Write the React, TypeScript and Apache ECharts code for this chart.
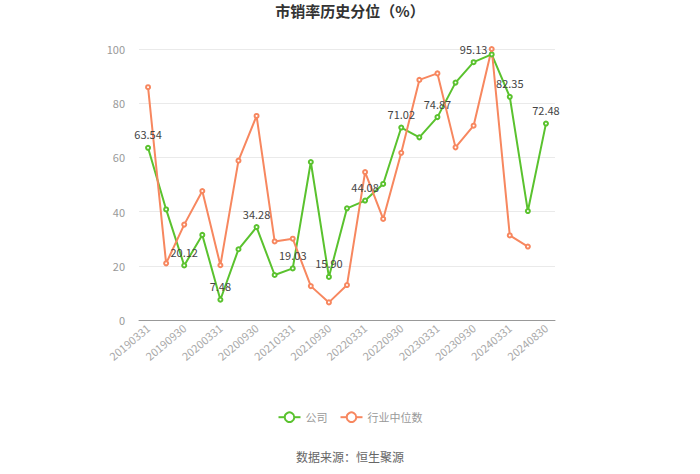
import React, { useEffect, useRef } from "react";
import * as echarts from "echarts";

const categories = [
  "20190331", "20190630", "20190930", "20191231",
  "20200331", "20200630", "20200930", "20201231",
  "20210331", "20210630", "20210930", "20211231",
  "20220331", "20220630", "20220930", "20221231",
  "20230331", "20230630", "20230930", "20231231",
  "20240331", "20240630", "20240830",
];

const companyValues = [
  63.54, 40.8, 20.12, 31.4, 7.48, 26.1, 34.28, 16.6, 19.03, 58.3, 15.9, 41.2,
  44.08, 50.2, 71.02, 67.4, 74.87, 87.6, 95.13, 98.0, 82.35, 40.2, 72.48,
];

const industryValues = [
  85.9, 20.9, 35.2, 47.6, 20.2, 58.8, 75.3, 29.0, 30.0, 12.5, 6.5, 12.9,
  54.6, 37.3, 61.7, 88.6, 91.0, 63.7, 71.7, 100.0, 31.2, 27.1,
];

const yTicks = { min: 0, max: 100, interval: 20 };

export default function App() {
  const ref = useRef<HTMLDivElement>(null);
  useEffect(() => {
    if (!ref.current) return;
    const chart = echarts.init(ref.current, null, { renderer: "svg" });
    const font = "'Microsoft YaHei', 'Noto Sans CJK SC', sans-serif";
    chart.setOption({
      animation: false,
      textStyle: { fontFamily: font },
      title: {
        text: "市销率历史分位（%）",
        left: "center",
        top: -2,
        textStyle: { fontSize: 15, fontWeight: "bold", color: "#333", fontFamily: font },
      },
      grid: { left: 139, right: 145, top: 49, bottom: 154 },
      legend: {
        bottom: 46,
        left: "center",
        itemWidth: 22,
        itemHeight: 12,
        itemGap: 12,
        textStyle: { fontSize: 11, color: "#999" },
        data: ["公司", "行业中位数"],
      },
      graphic: [
        {
          type: "text",
          left: "center",
          top: 450,
          style: { text: "数据来源：恒生聚源", fontSize: 12, fill: "#666", fontFamily: font },
        },
      ],
      xAxis: {
        type: "category",
        data: categories,
        boundaryGap: true,
        axisLine: { lineStyle: { color: "#999" } },
        axisTick: { alignWithLabel: true, interval: 1, lineStyle: { color: "#999" } },
        axisLabel: { interval: 1, rotate: 40, color: "#aaa", fontSize: 11, margin: 6 },
      },
      yAxis: {
        type: "value",
        min: yTicks.min,
        max: yTicks.max,
        interval: yTicks.interval,
        axisLabel: { color: "#999", fontSize: 11, margin: 14 },
        splitLine: { lineStyle: { color: "#eaeaea" } },
        axisLine: { show: false },
        axisTick: { show: false },
      },
      series: [
        {
          name: "公司",
          type: "line",
          data: companyValues,
          symbol: "emptyCircle",
          symbolSize: 4,
          color: "#5ac22e",
          lineStyle: { width: 2 },
          label: {
            show: true,
            position: "top",
            color: "#444",
            fontSize: 11,
            formatter: (p: any) => (p.dataIndex % 2 === 0 ? Number(p.value).toFixed(2) : ""),
          },
        },
        {
          name: "行业中位数",
          type: "line",
          data: industryValues,
          symbol: "emptyCircle",
          symbolSize: 4,
          color: "#f7875f",
          lineStyle: { width: 2 },
        },
      ],
    });
    return () => chart.dispose();
  }, []);
  return (
    <div
      ref={ref}
      style={{ position: "absolute", left: 0, top: 0, width: 700, height: 474 }}
    />
  );
}
